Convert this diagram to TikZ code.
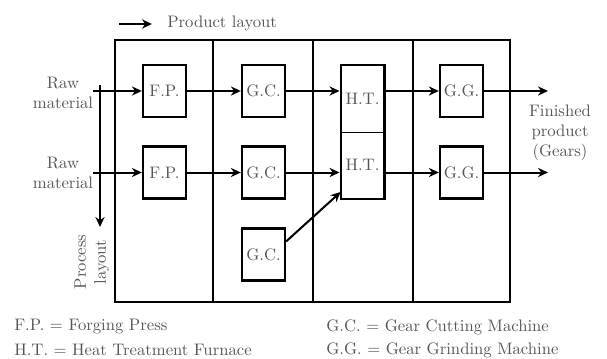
\documentclass[tikz,border=0pt]{standalone}
\usepackage{tikz}
\usetikzlibrary{arrows.meta,fit,positioning}
\definecolor{figText}{HTML}{555555}

\begin{document}
\begin{tikzpicture}[
  x=0.6pt, y=-0.6pt,
  every node/.style={font=\normalsize, text=figText},
  mach/.style={draw, line width=1.4pt, minimum width=25.8pt,
    minimum height=31.2pt, inner sep=0pt},
  half/.style={minimum width=25.8pt, minimum height=40pt, inner sep=0pt},
  lbl/.style={align=center, inner sep=0pt},
  arr/.style={-{Stealth[length=6pt,width=5.5pt]}, line width=1.2pt},
]
\useasboundingbox (0,0) rectangle (607,358);

% Title arrow
\coordinate (pa) at (119,24);
\coordinate (pb) at (152,24);
\draw[arr] (pa) -- (pb);
\node[anchor=west, inner sep=0pt] (prod) at (167,23) {Product layout};

% Shop floor with four sections
\draw[line width=1.1pt] (115,40) rectangle (510,302);
\foreach \x in {213,313,413}
  \draw[line width=0.9pt] (\x,40) -- (\x,302);

% Machines
\node[mach] (fp1) at (164.5,91) {F.P.};
\node[mach] (fp2) at (164.5,172.5) {F.P.};
\node[mach] (gc1) at (263.5,91) {G.C.};
\node[mach] (gc2) at (263.5,172.5) {G.C.};
\node[mach] (gc3) at (263.5,254.5) {G.C.};
\node[half] (ht1) at (362.5,98.5) {H.T.};
\node[half] (ht2) at (362.5,165) {H.T.};
\node[draw, line width=1.4pt, inner sep=0pt, fit=(ht1)(ht2)] (ht) {};
\draw[line width=0.5pt] (ht1.south west) -- (ht1.south east);
\node[mach] (gg1) at (461.5,91) {G.G.};
\node[mach] (gg2) at (461.5,172.5) {G.G.};

% Inputs
\node[lbl] (raw1) at (63,93) {Raw\\material};
\node[lbl] (raw2) at (63,173) {Raw\\material};
\draw[arr] (raw1.east |- fp1) -- (fp1.west);
\draw[arr] (raw2.east |- fp2) -- (fp2.west);

% Product flow
\draw[arr] (fp1) -- (gc1);
\draw[arr] (fp2) -- (gc2);
\draw[arr] (gc1) -- (gc1 -| ht.west);
\draw[arr] (gc2) -- (gc2 -| ht.west);
\draw[arr] (gg1 -| ht.east) -- (gg1);
\draw[arr] (gg2 -| ht.east) -- (gg2);
\draw[arr] (gc3.30) -- (ht2.231);

% Outputs
\coordinate (out1) at (548,91);
\coordinate (out2) at (548,172.5);
\draw[arr] (gg1) -- (out1);
\draw[arr] (gg2) -- (out2);
\node[lbl] (fin) at (560,133) {Finished\\product\\(Gears)};

% Process layout arrow
\coordinate (pt) at (100,85);
\coordinate (pd) at (100,227);
\draw[arr] (pt) -- (pd);
\node[lbl, rotate=90] (proc) at (92,262) {Process\\layout};

% Legend
\node[anchor=west, inner sep=0pt] (lfp) at (14,327) {F.P. = Forging Press};
\node[anchor=west, inner sep=0pt] (lht) at (14,350) {H.T. = Heat Treatment Furnace};
\node[anchor=west, inner sep=0pt] (lgc) at (326,327) {G.C. = Gear Cutting Machine};
\node[anchor=west, inner sep=0pt] (lgg) at (326,350) {G.G. = Gear Grinding Machine};

\end{tikzpicture}
\end{document}
